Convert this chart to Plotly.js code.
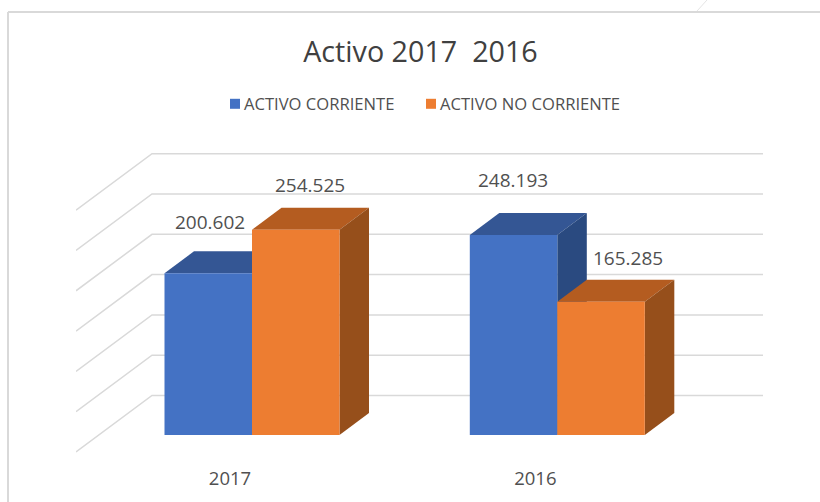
<!DOCTYPE html>
<html>
<head>
<meta charset="utf-8">
<script src="https://cdn.plot.ly/plotly-3.0.1.min.js"></script>
<style>html,body{margin:0;padding:0;background:#fff}#chart{width:820px;height:502px}</style>
</head>
<body>
<div id="chart"></div>
<script>
// Data
var categories = ['2017', '2016'];
var corriente = [200602, 248193];
var noCorriente = [254525, 165285];
var gridTicks = [0, 50000, 100000, 150000, 200000, 250000, 300000];
var seriesNames = ['ACTIVO CORRIENTE', 'ACTIVO NO CORRIENTE'];

// Projection of the fake 3D box (pixel geometry of the picture)
var W = 820, H = 502;
var plotL = 76, plotR = 763, plotT = 150, plotB = 456;
var pxPerCat = 305.3, group0Px = 252;
var pxPerVal = 0.000806, wallZeroPx = 395.5, frontZeroPx = 435;
var barPx = 87.5, depthDx = 29.5, depthDy = 22, wallDx = 76, wallDy = 56.5;

var xOf = function (px) { return (px - group0Px) / pxPerCat; };
var yOf = function (px) { return (wallZeroPx - px) / pxPerVal; };
var xRange = [xOf(plotL), xOf(plotR)];
var yRange = [yOf(plotB), yOf(plotT)];
var base = yOf(frontZeroPx);
var barW = barPx / pxPerCat, dX = depthDx / pxPerCat, dY = depthDy / pxPerVal;

var colors = {
  blue: '#4472C4', blueTop: '#345694', blueSide: '#2A4A80',
  orange: '#ED7D31', orangeTop: '#B45C20', orangeSide: '#964F1B'
};
var traces = [];

// Wall and floor gridlines
var gx = [], gy = [];
gridTicks.forEach(function (t) {
  gx.push(xRange[0], xOf(plotL + wallDx), xRange[1], null);
  gy.push(t - wallDy / pxPerVal, t, t, null);
});
traces.push({type: 'scatter', mode: 'lines', x: gx, y: gy, showlegend: false, hoverinfo: 'skip',
  line: {color: '#D9D9D9', width: 1.5}});

// Top and side faces
function depth(values, offset, topColor, sideColor) {
  values.forEach(function (v, i) {
    var l = i + offset * barW, r = l + barW, top = base + v;
    traces.push({type: 'scatter', mode: 'lines', fill: 'toself', fillcolor: topColor, showlegend: false, hoverinfo: 'skip',
      x: [l, l + dX, r + dX, r, l], y: [top, top + dY, top + dY, top, top], line: {width: 0, color: topColor}});
    traces.push({type: 'scatter', mode: 'lines', fill: 'toself', fillcolor: sideColor, showlegend: false, hoverinfo: 'skip',
      x: [r, r + dX, r + dX, r, r], y: [top, top + dY, base + dY, base, top], line: {width: 0, color: sideColor}});
  });
}
depth(corriente, -1, colors.blueTop, colors.blueSide);
depth(noCorriente, 0, colors.orangeTop, colors.orangeSide);

// Front faces
var catX = categories.map(function (c, i) { return i; });
traces.push({type: 'bar', name: seriesNames[0], x: catX, y: corriente, base: base, xaxis: 'x2', yaxis: 'y2',
  marker: {color: colors.blue}});
traces.push({type: 'bar', name: seriesNames[1], x: catX, y: noCorriente, base: base, xaxis: 'x2', yaxis: 'y2',
  marker: {color: colors.orange}});

// Value labels
function fmt(v) { return String(v).replace(/\B(?=(\d{3})+$)/g, '.'); }
var labelFont = {family: 'Open Sans, sans-serif', size: 19, color: '#505050'};
function labels(values, barCentrePx, upPx) {
  return values.map(function (v, i) {
    return {x: i, y: base + v, xref: 'x', yref: 'y', text: fmt(v), showarrow: false,
      xanchor: 'center', yanchor: 'middle', font: labelFont, xshift: barCentrePx[i], yshift: upPx[i]};
  });
}
var annotations = labels(corriente, [-42, -44], [51, 54.5])
  .concat(labels(noCorriente, [58, 70.5], [45.2, 44.2]));

var shapes = [
  {type: 'line', xref: 'paper', yref: 'paper', x0: 8 / W, x1: 1, y0: 1 - 12 / H, y1: 1 - 12 / H, line: {color: '#D9D9D9', width: 2}},
  {type: 'line', xref: 'paper', yref: 'paper', x0: 8 / W, x1: 8 / W, y0: 1 - 12 / H, y1: 0, line: {color: '#D9D9D9', width: 2}},
  {type: 'line', xref: 'paper', yref: 'paper', x0: 697 / W, x1: 707 / W, y0: 1 - 11 / H, y1: 1, line: {color: '#E4E4E4', width: 1}}
];

var domX = [plotL / W, plotR / W], domY = [1 - plotB / H, 1 - plotT / H];
var layout = {
  width: W, height: H, margin: {l: 0, r: 0, t: 0, b: 0}, paper_bgcolor: '#fff', plot_bgcolor: 'rgba(0,0,0,0)',
  title: {text: 'Activo 2017\u00A0\u00A02016', x: 420.5 / W, xanchor: 'center', xref: 'paper', y: 1 - 52 / H, yanchor: 'middle', yref: 'paper',
    font: {family: 'Open Sans, sans-serif', size: 28.7, color: '#404040'}},
  barmode: 'group', bargap: 1 - 2 * barW, bargroupgap: 0,
  xaxis: {domain: domX, range: xRange, tickmode: 'array', tickvals: catX.map(function (i) { return i - 22 / pxPerCat; }), ticktext: categories,
    showgrid: false, zeroline: false, showline: false, ticks: 'outside', ticklen: 6, tickcolor: 'rgba(0,0,0,0)',
    tickfont: {family: 'Open Sans, sans-serif', size: 18.5, color: '#505050'}, anchor: 'y'},
  yaxis: {domain: domY, range: yRange, showgrid: false, zeroline: false, showline: false, showticklabels: false, ticks: '', anchor: 'x'},
  xaxis2: {domain: domX, range: xRange, overlaying: 'x', visible: false, anchor: 'y2'},
  yaxis2: {domain: domY, range: yRange, overlaying: 'y', visible: false, anchor: 'x2'},
  legend: {orientation: 'h', x: 204 / W, xanchor: 'left', y: 1 - 104 / H, yanchor: 'middle', entrywidth: 151, entrywidthmode: 'pixels',
    font: {family: 'Open Sans, sans-serif', size: 16.6, color: '#505050'}, bgcolor: 'rgba(0,0,0,0)'},
  annotations: annotations, shapes: shapes, showlegend: true
};

Plotly.newPlot('chart', traces, layout, {displayModeBar: false, staticPlot: true}).then(function () {
  // Legend swatches sit right next to their text in the picture
  document.querySelectorAll('#chart .legend .legendbar path, #chart .legend .legendpoints path').forEach(function (p) {
    p.setAttribute('d', 'M5,5H-5V-5H5Z');
    p.setAttribute('transform', 'translate(31,0)');
  });
  // The second entry is wider than the fixed entry spacing: do not clip it
  document.querySelectorAll('#chart .legend .scrollbox, #chart .legend').forEach(function (g) {
    g.removeAttribute('clip-path');
    g.style.clipPath = 'none';
  });
});
</script>
</body>
</html>
